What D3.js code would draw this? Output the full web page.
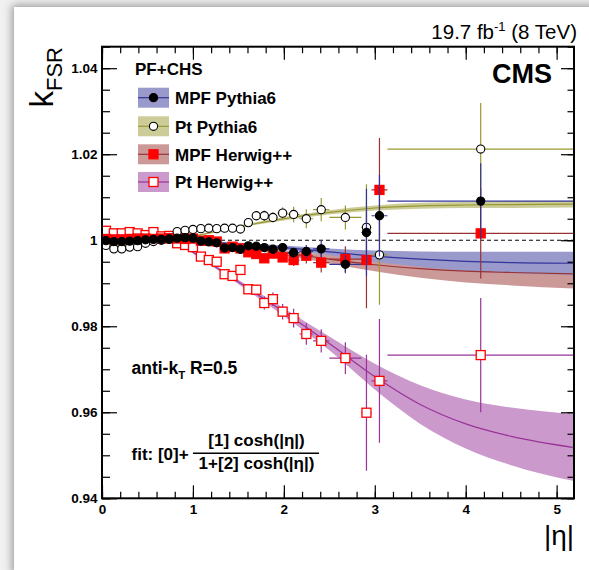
<!DOCTYPE html>
<html>
<head>
<meta charset="utf-8">
<script src="https://cdn.jsdelivr.net/npm/d3@7"></script>
<style>
  body { margin: 0; background: #fff; }
  svg { display: block; }
  text { font-family: "Liberation Sans", Arial, Helvetica, sans-serif; }
</style>
</head>
<body>
<div id="chart"></div>
<script>
// bin edges in |eta| and point positions (bin centres)
const etaEdges = [0, 0.087, 0.174, 0.261, 0.348, 0.435, 0.522, 0.609, 0.696, 0.783, 0.870, 0.957,
  1.044, 1.131, 1.218, 1.305, 1.392, 1.479, 1.566, 1.653, 1.740, 1.830, 1.930, 2.043, 2.172,
  2.322, 2.500, 2.853, 2.964, 3.139, 5.191];
const etaPoints = [0.0435, 0.1305, 0.2175, 0.3045, 0.3915, 0.4785, 0.5655, 0.6525, 0.7395, 0.8265,
  0.9135, 1.0005, 1.0875, 1.1745, 1.2615, 1.3485, 1.4355, 1.5225, 1.6095, 1.6965, 1.785, 1.88,
  1.9865, 2.1075, 2.247, 2.411, 2.6765, 2.9085, 3.0515, 4.165];

// k_FSR per bin
const mpfPythia = [0.9999, 0.9997, 0.9997, 0.9998, 0.9999, 1.0001, 1.0002, 1.0002, 1.0003, 1.0005,
  1.0006, 1.0005, 0.9998, 0.9996, 0.9994, 0.9982, 0.9983, 0.9979, 0.9987, 0.9986, 0.9983, 0.9979,
  0.9983, 0.9971, 0.9974, 0.9980, 0.9944, 1.0018, 1.0057, 1.0091];
const ptPythia = [0.9988, 0.9980, 0.9980, 0.9984, 0.9985, 0.9993, 0.9997, 1.0000, 1.0002, 1.0020,
  1.0023, 1.0025, 1.0027, 1.0028, 1.0027, 1.0028, 1.0028, 1.0026, 1.0041, 1.0057, 1.0057, 1.0053,
  1.0063, 1.0060, 1.0050, 1.0071, 1.0053, 1.0030, 0.9966, 1.0212];
const mpfHerwig = [1.0003, 1.0002, 1.0002, 1.0003, 1.0004, 1.0004, 1.0003, 1.0004, 1.0005, 1.0004,
  1.0003, 1.0004, 0.9999, 1.0000, 0.9997, 0.9981, 0.9985, 0.9981, 0.9972, 0.9968, 0.9958, 0.9969,
  0.9960, 0.9954, 0.9964, 0.9948, 0.9956, 0.9954, 1.0117, 1.0016];
const ptHerwig = [1.0022, 1.0016, 1.0016, 1.0019, 1.0016, 1.0012, 1.0019, 1.0009, 1.0010, 0.9993,
  0.9989, 0.9984, 0.9962, 0.9954, 0.9950, 0.9921, 0.9917, 0.9931, 0.9886, 0.9885, 0.9854, 0.9863,
  0.9834, 0.9819, 0.9782, 0.9766, 0.9726, 0.9599, 0.9673, 0.9733];

// statistical uncertainties
const mpfPythiaErr = [0.0003, 0.0003, 0.0003, 0.0003, 0.0003, 0.0003, 0.0003, 0.0003, 0.0003, 0.0004,
  0.0004, 0.0004, 0.0004, 0.0004, 0.0004, 0.0006, 0.0006, 0.0006, 0.0006, 0.0006, 0.0008, 0.0008,
  0.0009, 0.0012, 0.0015, 0.0019, 0.0021, 0.0102, 0.0095, 0.0088];
const ptPythiaErr = [0.0004, 0.0004, 0.0004, 0.0004, 0.0004, 0.0004, 0.0004, 0.0004, 0.0004, 0.0006,
  0.0006, 0.0006, 0.0006, 0.0006, 0.0006, 0.0009, 0.0009, 0.0009, 0.0009, 0.0009, 0.0012, 0.0012,
  0.0014, 0.0018, 0.0022, 0.0027, 0.0028, 0.0100, 0.0116, 0.0107];
const mpfHerwigErr = [0.0003, 0.0003, 0.0003, 0.0003, 0.0003, 0.0003, 0.0003, 0.0003, 0.0003, 0.0005,
  0.0005, 0.0005, 0.0005, 0.0005, 0.0005, 0.0007, 0.0007, 0.0007, 0.0007, 0.0007, 0.0009, 0.0009,
  0.0010, 0.0014, 0.0018, 0.0023, 0.0030, 0.0112, 0.0121, 0.0105];
const ptHerwigErr = [0.0005, 0.0005, 0.0005, 0.0005, 0.0005, 0.0005, 0.0005, 0.0005, 0.0005, 0.0007,
  0.0007, 0.0007, 0.0007, 0.0007, 0.0007, 0.0011, 0.0011, 0.0011, 0.0011, 0.0011, 0.0015, 0.0016,
  0.0018, 0.0022, 0.0025, 0.0027, 0.0037, 0.0135, 0.0144, 0.0133];

// fit curves, with their uncertainty band half widths
const fitEta = [0, 0.25, 0.5, 0.75, 1, 1.25, 1.5, 1.75, 2, 2.5, 3, 3.5, 4, 4.5, 5.191];
const fitMpfPythia = [1.0002, 1.0002, 1.0001, 1.0000, 0.9998, 0.9995, 0.9991, 0.9987, 0.9983, 0.9973, 0.9963, 0.9956, 0.9951, 0.9948, 0.99465];
const fitPtPythia = [0.9987, 0.9988, 0.9992, 0.9999, 1.0009, 1.0020, 1.0031, 1.0041, 1.0050, 1.0065, 1.0075, 1.0080, 1.0082, 1.0083, 1.0084];
const fitMpfHerwig = [1.0006, 1.0006, 1.0005, 1.0003, 0.9999, 0.9993, 0.9986, 0.9978, 0.9971, 0.9956, 0.9943, 0.9934, 0.9928, 0.9925, 0.9922];
const fitPtHerwig = [1.0024, 1.0021, 1.0013, 1.0000, 0.9972, 0.9938, 0.9903, 0.9868, 0.9833, 0.9760, 0.9683, 0.9618, 0.9573, 0.9544, 0.9518];
const bandMpfPythia = [0.0002, 0.0002, 0.0002, 0.0002, 0.0002, 0.0002, 0.0003, 0.0004, 0.0005, 0.0008, 0.0013, 0.0018, 0.0022, 0.0025, 0.0027];
const bandPtPythia = [0.0003, 0.0003, 0.0002, 0.0002, 0.0002, 0.0002, 0.0003, 0.0003, 0.0004, 0.0005, 0.0006, 0.0007, 0.0007, 0.0008, 0.0008];
const bandMpfHerwig = [0.0003, 0.0003, 0.0003, 0.0003, 0.0003, 0.0003, 0.0004, 0.0005, 0.0006, 0.0010, 0.0015, 0.0021, 0.0026, 0.0030, 0.0034];
const bandPtHerwig = [0.0004, 0.0004, 0.0003, 0.0003, 0.0003, 0.0004, 0.0005, 0.0007, 0.0009, 0.0016, 0.0030, 0.0045, 0.0057, 0.0067, 0.0078];

// axis ticks
const xMajor = [0, 1, 2, 3, 4, 5];
const xTickLabels = ["0", "1", "2", "3", "4", "5"];
const yMajor = [0.94, 0.96, 0.98, 1.00, 1.02, 1.04];
const yTickLabels = ["0.94", "0.96", "0.98", "1", "1.02", "1.04"];

const W = 589, H = 570;
const svg = d3.select('#chart').append('svg')
  .attr('width', W)
  .attr('height', H);

// page frame with soft shadow
const defs = svg.append('defs');
defs.append('filter').attr('id', 'shadow')
  .attr('x', '-10%').attr('y', '-10%').attr('width', '120%').attr('height', '120%')
  .append('feGaussianBlur').attr('stdDeviation', 4);
svg.append('rect').attr('width', W).attr('height', H).attr('fill', '#f1f1f1');
svg.append('rect').attr('x', 12).attr('y', 5).attr('width', W).attr('height', H)
  .attr('fill', '#9a9a9a').attr('filter', 'url(#shadow)');
svg.append('rect').attr('x', 14).attr('y', 7).attr('width', W).attr('height', H).attr('fill', '#fff');

const x = d3.scaleLinear().domain([0, 5.191]).range([102, 574]);
const y = d3.scaleLinear().domain([0.94, 1.045]).range([498.3, 46.7]);

const series = [
  { name: 'MPF Herwig++', vals: mpfHerwig, err: mpfHerwigErr, fit: fitMpfHerwig, band: bandMpfHerwig,
    line: '#993333', fill: '#cc9999', marker: 'square', mfill: '#ff0000', mstroke: '#ff0000' },
  { name: 'MPF Pythia6', vals: mpfPythia, err: mpfPythiaErr, fit: fitMpfPythia, band: bandMpfPythia,
    line: '#333399', fill: '#9999cc', marker: 'circle', mfill: '#000', mstroke: '#000' },
  { name: 'Pt Pythia6', vals: ptPythia, err: ptPythiaErr, fit: fitPtPythia, band: bandPtPythia,
    line: '#999933', fill: '#cccc99', marker: 'circle', mfill: '#fff', mstroke: '#000' },
  { name: 'Pt Herwig++', vals: ptHerwig, err: ptHerwigErr, fit: fitPtHerwig, band: bandPtHerwig,
    line: '#993399', fill: '#cc99cc', marker: 'square', mfill: '#fff', mstroke: '#ff0000' }
];

const plot = svg.append('g');
plot.append('defs').append('clipPath').attr('id', 'frame')
  .append('rect').attr('x', 102).attr('y', 46.7).attr('width', 472).attr('height', 451.6);
const inner = plot.append('g').attr('clip-path', 'url(#frame)');

// bands and fit lines
const area = d3.area().curve(d3.curveMonotoneX)
  .x(d => x(d.eta)).y0(d => y(d.v - d.b)).y1(d => y(d.v + d.b));
const line = d3.line().curve(d3.curveMonotoneX)
  .x(d => x(d.eta)).y(d => y(d.v));

series.forEach(s => {
  const pts = fitEta.map((e, i) => ({ eta: e, v: s.fit[i], b: s.band[i] }));
  s.fitPts = pts;
  inner.append('path').attr('d', area(pts)).attr('fill', s.fill);
});
series.forEach(s => {
  inner.append('path').attr('d', line(s.fitPts))
    .attr('fill', 'none').attr('stroke', s.line).attr('stroke-width', 1.2);
});

// reference line at 1
inner.append('line')
  .attr('x1', x(0)).attr('x2', x(5.191)).attr('y1', y(1)).attr('y2', y(1))
  .attr('stroke', '#000').attr('stroke-width', 1).attr('stroke-dasharray', '4,3');

// data points with error bars
function drawMarker(g, s, cx, cy) {
  if (s.marker === 'circle') {
    g.append('circle').attr('cx', cx).attr('cy', cy).attr('r', 4.1)
      .attr('fill', s.mfill).attr('stroke', s.mstroke).attr('stroke-width', 1.1);
  } else {
    g.append('rect').attr('x', cx - 4.5).attr('y', cy - 4.5).attr('width', 9).attr('height', 9)
      .attr('fill', s.mfill).attr('stroke', s.mstroke).attr('stroke-width', 1.3);
  }
}

const drawOrder = [series[3], series[0], series[2], series[1]];
drawOrder.forEach(s => {
  const g = inner.append('g');
  etaPoints.forEach((e, i) => {
    const cx = x(e), cy = y(s.vals[i]);
    g.append('line')
      .attr('x1', cx).attr('x2', cx)
      .attr('y1', y(s.vals[i] - s.err[i])).attr('y2', y(s.vals[i] + s.err[i]))
      .attr('stroke', s.line).attr('stroke-width', 1.2);
    g.append('line')
      .attr('x1', x(etaEdges[i])).attr('x2', x(etaEdges[i + 1]))
      .attr('y1', cy).attr('y2', cy)
      .attr('stroke', s.line).attr('stroke-width', 1.2);
  });
  etaPoints.forEach((e, i) => drawMarker(g, s, x(e), y(s.vals[i])));
});

// axes, ROOT style ticks pointing inwards
const axisFont = g => g.selectAll('text')
  .attr('font-family', '"Liberation Sans", Arial, sans-serif')
  .attr('font-weight', 'bold').attr('font-size', 13.5).attr('fill', '#000');
const noDomain = g => g.select('.domain').remove();

svg.append('g').attr('transform', `translate(0,${y.range()[0]})`)
  .call(d3.axisBottom(x).tickValues(xMajor).tickFormat((d, i) => xTickLabels[i])
    .tickSizeInner(-13).tickSizeOuter(0).tickPadding(6))
  .call(noDomain).call(axisFont)
  .selectAll('line').attr('stroke', '#000').attr('stroke-width', 1.2);
svg.append('g').attr('transform', `translate(0,${y.range()[0]})`)
  .call(d3.axisBottom(x).tickValues(d3.range(0, 5.2, 0.2)).tickFormat('')
    .tickSizeInner(-6.5).tickSizeOuter(0))
  .call(noDomain).selectAll('line').attr('stroke', '#000').attr('stroke-width', 1.2);
svg.append('g').attr('transform', `translate(0,${y.range()[1]})`)
  .call(d3.axisTop(x).tickValues(xMajor).tickFormat('').tickSizeInner(-13).tickSizeOuter(0))
  .call(noDomain).selectAll('line').attr('stroke', '#000').attr('stroke-width', 1.2);
svg.append('g').attr('transform', `translate(0,${y.range()[1]})`)
  .call(d3.axisTop(x).tickValues(d3.range(0, 5.2, 0.2)).tickFormat('').tickSizeInner(-6.5).tickSizeOuter(0))
  .call(noDomain).selectAll('line').attr('stroke', '#000').attr('stroke-width', 1.2);

svg.append('g').attr('transform', `translate(${x.range()[0]},0)`)
  .call(d3.axisLeft(y).tickValues(yMajor).tickFormat((d, i) => yTickLabels[i])
    .tickSizeInner(-15).tickSizeOuter(0).tickPadding(4.5))
  .call(noDomain).call(axisFont)
  .selectAll('line').attr('stroke', '#000').attr('stroke-width', 1.2);
svg.append('g').attr('transform', `translate(${x.range()[0]},0)`)
  .call(d3.axisLeft(y).tickValues(d3.range(0.94, 1.0451, 0.005)).tickFormat('')
    .tickSizeInner(-8).tickSizeOuter(0))
  .call(noDomain).selectAll('line').attr('stroke', '#000').attr('stroke-width', 1.2);
svg.append('g').attr('transform', `translate(${x.range()[1]},0)`)
  .call(d3.axisRight(y).tickValues(yMajor).tickFormat('').tickSizeInner(-13).tickSizeOuter(0))
  .call(noDomain).selectAll('line').attr('stroke', '#000').attr('stroke-width', 1.2);
svg.append('g').attr('transform', `translate(${x.range()[1]},0)`)
  .call(d3.axisRight(y).tickValues(d3.range(0.94, 1.0451, 0.005)).tickFormat('')
    .tickSizeInner(-6.5).tickSizeOuter(0))
  .call(noDomain).selectAll('line').attr('stroke', '#000').attr('stroke-width', 1.2);

// frame
svg.append('rect')
  .attr('x', 102).attr('y', 46.7).attr('width', 472).attr('height', 451.6)
  .attr('fill', 'none').attr('stroke', '#000').attr('stroke-width', 2);

// axis titles
const ytitle = svg.append('text')
  .attr('transform', 'translate(53,47) rotate(-90)')
  .attr('text-anchor', 'end');
ytitle.append('tspan').attr('font-size', 33).text('k');
ytitle.append('tspan').attr('font-size', 22).attr('dy', 9).text('FSR');

svg.append('text').attr('x', 574).attr('y', 545)
  .attr('text-anchor', 'end').attr('font-size', 28).text('|η|');

// header texts
const lumi = svg.append('text').attr('x', 577).attr('y', 39)
  .attr('text-anchor', 'end').attr('font-size', 20.5);
lumi.append('tspan').text('19.7 fb');
lumi.append('tspan').attr('font-size', 13).attr('dy', -8).text('-1');
lumi.append('tspan').attr('dy', 8).text(' (8 TeV)');

svg.append('text').attr('x', 552).attr('y', 83)
  .attr('text-anchor', 'end').attr('font-size', 27).attr('font-weight', 'bold').text('CMS');

// legend
svg.append('text').attr('x', 135).attr('y', 74.5)
  .attr('font-size', 17).attr('font-weight', 'bold').text('PF+CHS');
const legendOrder = [series[1], series[2], series[0], series[3]];
const legendY = [97.7, 126.3, 154.3, 182];
legendOrder.forEach((s, i) => {
  const cy = legendY[i];
  const lg = svg.append('g');
  lg.append('rect').attr('x', 138).attr('y', cy - 10).attr('width', 31).attr('height', 20)
    .attr('fill', s.fill);
  lg.append('line').attr('x1', 138).attr('x2', 169).attr('y1', cy).attr('y2', cy)
    .attr('stroke', s.line).attr('stroke-width', 1.2);
  drawMarker(lg, s, 153.5, cy);
  lg.append('text').attr('x', 175).attr('y', cy + 6.2)
    .attr('font-size', 17).attr('font-weight', 'bold').text(s.name);
});

// jet algorithm label
const algo = svg.append('text').attr('x', 131.5).attr('y', 374)
  .attr('font-size', 17.5).attr('font-weight', 'bold');
algo.append('tspan').text('anti-k');
algo.append('tspan').attr('font-size', 11.5).attr('dy', 5).text('T');
algo.append('tspan').attr('dy', -5).text(' R=0.5');

// fit formula
svg.append('text').attr('x', 131.5).attr('y', 460)
  .attr('font-size', 17).attr('font-weight', 'bold').text('fit: [0]+');
svg.append('text').attr('x', 256.5).attr('y', 446).attr('text-anchor', 'middle')
  .attr('font-size', 17).attr('font-weight', 'bold').text('[1] cosh(|η|)');
svg.append('line').attr('x1', 193).attr('x2', 319).attr('y1', 453.3).attr('y2', 453.3)
  .attr('stroke', '#000').attr('stroke-width', 1.5);
svg.append('text').attr('x', 256.5).attr('y', 469).attr('text-anchor', 'middle')
  .attr('font-size', 17).attr('font-weight', 'bold').text('1+[2] cosh(|η|)');
</script>
</body>
</html>
